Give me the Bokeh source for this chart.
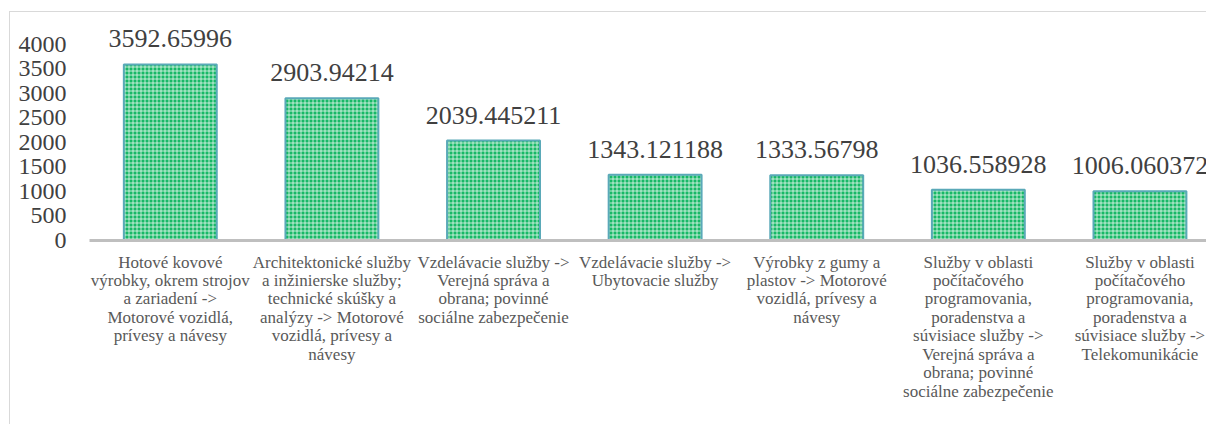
from bokeh.plotting import figure
from bokeh.models import ColumnDataSource, LabelSet, Range1d, FixedTicker
from bokeh.embed import file_html
from bokeh.resources import INLINE

categories = [
    "Hotové kovové\nvýrobky, okrem strojov\na zariadení ->\nMotorové vozidlá,\nprívesy a návesy",
    "Architektonické služby\na inžinierske služby;\ntechnické skúšky a\nanalýzy -> Motorové\nvozidlá, prívesy a\nnávesy",
    "Vzdelávacie služby ->\nVerejná správa a\nobrana; povinné\nsociálne zabezpečenie",
    "Vzdelávacie služby ->\nUbytovacie služby",
    "Výrobky z gumy a\nplastov -> Motorové\nvozidlá, prívesy a\nnávesy",
    "Služby v oblasti\npočítačového\nprogramovania,\nporadenstva a\nsúvisiace služby ->\nVerejná správa a\nobrana; povinné\nsociálne zabezpečenie",
    "Služby v oblasti\npočítačového\nprogramovania,\nporadenstva a\nsúvisiace služby ->\nTelekomunikácie",
]
values = [3592.65996, 2903.94214, 2039.445211, 1343.121188, 1333.56798, 1036.558928, 1006.060372]
value_labels = ["3592.65996", "2903.94214", "2039.445211", "1343.121188", "1333.56798", "1036.558928", "1006.060372"]
y_ticks = [0, 500, 1000, 1500, 2000, 2500, 3000, 3500, 4000]

FONT = "Liberation Serif"
xs = list(range(len(categories)))

src = ColumnDataSource(dict(x=xs, top=values, lab=value_labels))

W, H = 1197, 413
p = figure(width=W, height=H, output_backend="svg", toolbar_location=None,
           x_range=Range1d(-0.5, 6.418), y_range=Range1d(0, 4653),
           min_border_left=79, min_border_right=0, min_border_top=0, min_border_bottom=185,
           styles={"margin-left": "9px", "margin-top": "11px",
                   "border-left": "1px solid #d9d9d9", "border-top": "1px solid #d9d9d9"})
p.background_fill_color = "white"
p.border_fill_color = "white"
p.outline_line_color = None
p.grid.grid_line_color = None

p.vbar(x="x", top="top", width=0.575, source=src,
       fill_color="#17b866", line_color="#5aa9b8", line_width=2,
       hatch_pattern="cross", hatch_color="white", hatch_scale=4, hatch_weight=1, hatch_alpha=0.7)

labels = LabelSet(x="x", y="top", text="lab", source=src, text_align="center",
                  text_baseline="alphabetic", y_offset=17,
                  text_font=FONT, text_font_size="26px", text_color="#404040")
p.add_layout(labels)

# x axis
p.xaxis.ticker = FixedTicker(ticks=xs)
p.xaxis.major_label_overrides = {i: c for i, c in enumerate(categories)}
p.xaxis.axis_line_color = "#bfbfbf"
p.xaxis.axis_line_width = 3
p.xaxis.major_tick_line_color = None
p.xaxis.minor_tick_line_color = None
p.xaxis.major_label_standoff = 6
p.xaxis.major_label_text_font = FONT
p.xaxis.major_label_text_font_size = "17px"
p.xaxis.major_label_text_color = "#595959"
p.xaxis.major_label_text_line_height = 0.97

# y axis
p.yaxis.ticker = FixedTicker(ticks=y_ticks)
p.yaxis.axis_line_color = None
p.yaxis.major_tick_line_color = None
p.yaxis.minor_tick_line_color = None
p.yaxis.major_label_standoff = 17
p.yaxis.major_label_text_font = FONT
p.yaxis.major_label_text_font_size = "24px"
p.yaxis.major_label_text_color = "#404040"

open("out.html", "w").write(file_html(p, INLINE))
